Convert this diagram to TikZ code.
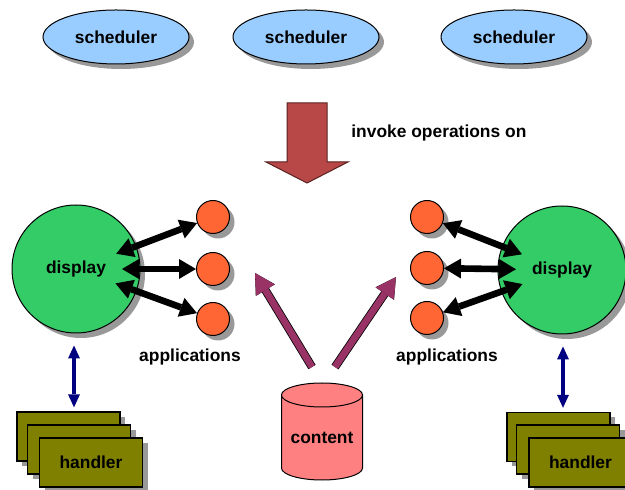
\documentclass[tikz,border=0pt]{standalone}
\usepackage{fontspec}
\setmainfont{Liberation Sans}
\usetikzlibrary{shapes.geometric,shadows,arrows.meta,calc}
\definecolor{schedblue}{HTML}{99CCFF}
\definecolor{dispgreen}{HTML}{33CC66}
\definecolor{apporange}{HTML}{FF6633}
\definecolor{handolive}{HTML}{808000}
\definecolor{contentred}{HTML}{FF8080}
\definecolor{bigred}{HTML}{B84848}
\definecolor{bigredline}{HTML}{5A2020}
\definecolor{purplearr}{HTML}{993366}
\definecolor{navyarr}{HTML}{000080}
\definecolor{shadowgray}{HTML}{999999}
\begin{document}
\begin{tikzpicture}[x=0.5pt,y=-0.5pt,
  font=\fontsize{8.7}{10}\selectfont\bfseries,
  shad/.style={drop shadow={shadow xshift=2.5pt,shadow yshift=-2.5pt,fill=shadowgray,opacity=1}},
  sched/.style={ellipse, draw=black, line width=0.5pt, fill=schedblue, minimum width=73pt, minimum height=27pt, inner sep=0pt, shad},
  disp/.style={circle, draw=black, line width=0.5pt, fill=dispgreen, minimum size=64pt, inner sep=0pt, shad},
  app/.style={circle, draw=black, line width=0.5pt, fill=apporange, minimum size=16.5pt, inner sep=0pt, shad},
  hand/.style={rectangle, draw=black, line width=0.7pt, fill=handolive, minimum width=51.5pt, minimum height=24.5pt, inner sep=0pt, shad},
  lbl/.style={inner sep=0pt},
  blackarr/.style={line width=3.3pt, draw=black,
    {Triangle[length=8.5pt,width=10pt,line width=0pt]}-{Triangle[length=8.5pt,width=10pt,line width=0pt]}},
  bluearr/.style={line width=2.3pt, draw=navyarr,
    {Triangle[length=6.5pt,width=6pt,line width=0pt]}-{Triangle[length=6.5pt,width=6pt,line width=0pt]}},
  purarr/.style={line width=3.4pt, draw=purplearr,
    -{Triangle[length=10pt,width=11pt,line width=0pt]},
    preaction={draw=black, line width=4.2pt, -{Triangle[length=10pt,width=11pt,line width=0.8pt]}}}
]
\useasboundingbox (0,0) rectangle (625,490);

% schedulers
\node[sched] (s1) at (116,37) {scheduler};
\node[sched] (s2) at (306,37) {scheduler};
\node[sched] (s3) at (514,37) {scheduler};

% big arrow
\path[fill=bigred, draw=bigredline, line width=0.5pt]
  (287,103) -- (327,103) -- (327,162) -- (348,162) -- (307,183) -- (266,162) -- (287,162) -- cycle;
\node[lbl, anchor=west] (inv) at (351,133) {invoke operations on};

% handlers left
\node[hand] (hL1) at (68.5,436.5) {};
\node[hand] (hL2) at (79,449.5) {};
\node[hand] (hL3) at (91,462.5) {handler};
% handlers right
\node[hand] (hR1) at (558.5,437) {};
\node[hand] (hR2) at (568,449.5) {};
\node[hand] (hR3) at (580.5,462.5) {handler};

% displays
\node[disp] (dL) at (76,269) {display};
\node[disp] (dR) at (562,270) {display};

% applications
\node[app] (aL1) at (213,217) {};
\node[app] (aL2) at (213,269) {};
\node[app] (aL3) at (213,319) {};
\node[app] (aR1) at (427,217) {};
\node[app] (aR2) at (427,268) {};
\node[app] (aR3) at (427,318) {};
\node[lbl] (appL) at (190,357) {applications};
\node[lbl] (appR) at (447,357) {applications};

% black arrows
\draw[blackarr] ($(dL.center)!21.5pt!(aL1)$) -- (aL1);
\draw[blackarr] ($(dL.center)!23pt!(aL2)$) -- (aL2);
\draw[blackarr] ($(dL.center)!21pt!(aL3)$) -- (aL3);
\draw[blackarr] (aR1) -- ($(dR.center)!21.5pt!(aR1)$);
\draw[blackarr] (aR2) -- ($(dR.center)!23pt!(aR2)$);
\draw[blackarr] (aR3) -- ($(dR.center)!21pt!(aR3)$);

% blue arrows
\draw[bluearr, shorten <=6pt, shorten >=2pt] ([xshift=-1pt]dL.south) -- ([xshift=-1pt]dL.south |- hL1.north);
\draw[bluearr, shorten <=6pt, shorten >=2pt] ([xshift=0.5pt]dR.south) -- ([xshift=0.5pt]dR.south |- hR1.north);

% content cylinder
\begin{scope}[shift={(322,432)}, x=0.5pt, y=0.5pt]
  \path[fill=contentred, draw=black, line width=0.5pt]
    (-40.5,37) -- (-40.5,-36) arc[start angle=180, end angle=360, x radius=40.5, y radius=12] -- (40.5,37);
  \path[fill=contentred, draw=black, line width=0.5pt] (0,37) ellipse[x radius=40.5, y radius=12];
\end{scope}
\node[lbl] (content) at (322,438) {content};

% purple arrows
\coordinate (ptL) at (312,367);
\coordinate (phL) at (255,273);
\coordinate (ptR) at (335,367);
\coordinate (phR) at (396,277);
\draw[purarr] (ptL) -- (phL);
\draw[purarr] (ptR) -- (phR);
\end{tikzpicture}
\end{document}
